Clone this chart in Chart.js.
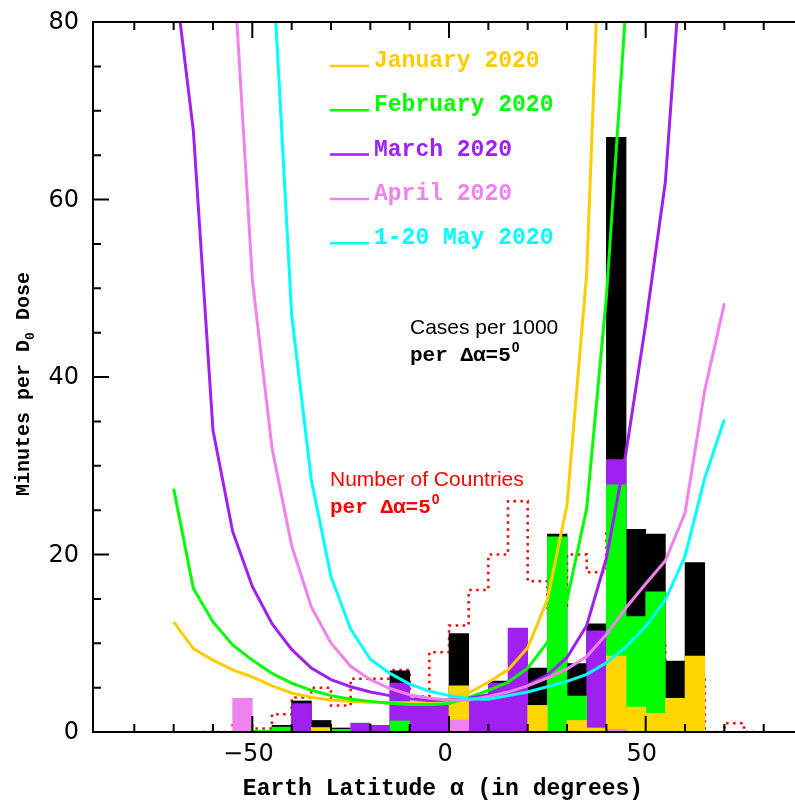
<!DOCTYPE html>
<html>
<head>
<meta charset="utf-8">
<script src="https://cdn.jsdelivr.net/npm/chart.js@4.4.1/dist/chart.umd.min.js"></script>
<style>
  html, body { margin: 0; padding: 0; background: #fff; }
  #wrap { width: 795px; height: 803px; position: relative; }
</style>
</head>
<body>
<div id="wrap"><canvas id="doseChart"></canvas></div>
<script>
// latitude grid of the dose curves (degrees)
const curveLat = [-70, -65, -60, -55, -50, -45, -40, -35, -30, -25, -20, -15, -10, -5, 0,
                  5, 10, 15, 20, 25, 30, 35, 40, 45, 50, 55, 60, 65, 70];
// minutes per D0 dose, one list per month (null = not computed)
const minutesJan = [12.4, 9.4, 8.1, 7.0, 6.2, 5.2, 4.4, 3.9, 3.6, 3.45, 3.35, 3.3, 3.3, 3.35, 3.7,
                    4.4, 5.6, 7.0, 9.5, 14.9, 25.6, 51.7, 110, null, null, null, null, null, null];
const minutesFeb = [27.4, 16.2, 12.4, 9.8, 8.1, 6.6, 5.5, 4.7, 4.1, 3.7, 3.45, 3.25, 3.1, 3.1, 3.2,
                    3.9, 4.7, 5.6, 7.2, 10.1, 14.9, 25.2, 49, 82, null, null, null, null, null];
const minutesMar = [86, 67.8, 34, 22.6, 16.4, 12.2, 9.3, 7.2, 5.9, 5.1, 4.5, 4.1, 3.75, 3.55, 3.6,
                    3.8, 4.2, 4.5, 5.3, 6.4, 8.4, 12.0, 19.6, 31.5, 46, 62, 93, null, null];
const minutesApr = [null, null, null, 88, 51, 32, 21, 14.1, 10.0, 7.4, 5.9, 4.9, 4.2, 3.8, 3.6,
                    3.6, 4.0, 4.5, 5.2, 6.1, 7.1, 8.5, 11.0, 14.0, 16.7, 19.3, 24.7, 38.5, 48.3];
const minutesMay = [null, null, null, null, null, 88, 47, 28.4, 17.5, 11.6, 8.2, 6.6, 5.4, 4.6, 4.1,
                    3.75, 3.7, 4.1, 4.5, 5.1, 5.7, 6.5, 7.8, 9.6, 11.9, 14.9, 19.8, 28.6, 35.2];

// histogram bins (centres of 5 degree bins)
const binCenters = [-52.5, -47.5, -42.5, -37.5, -32.5, -27.5, -22.5, -17.5, -12.5, -7.5, -2.5, 2.5,
                    7.5, 12.5, 17.5, 22.5, 27.5, 32.5, 37.5, 42.5, 47.5, 52.5, 57.5, 62.5];
const casesTotal = [0, 0, 0.75, 3.5, 1.3, 0.45, 0, 0, 6.9, 0, 0, 11.1,
                    0, 5.75, 0, 7.2, 22.3, 7.7, 12.2, 67.0, 22.85, 22.3, 8.0, 19.1];
const casesMar   = [0, 0, 0, 3.2, 0, 0, 1.0, 0.75, 5.5, 3.1, 3.1, 0,
                    3.6, 5.5, 11.7, 0, 0, 0, 11.4, 30.7, 0, 0, 0, 0];
const casesFeb   = [0, 0.2, 0.55, 0, 0, 0.3, 0, 0, 1.25, 0, 0, 0,
                    0, 0, 0, 0, 22.0, 4.05, 0, 27.85, 13.0, 15.8, 0, 0];
const casesJan   = [0, 0, 0, 0, 0.5, 0, 0, 0, 0, 0, 0, 5.2,
                    0, 0, 0, 3.0, 0, 1.3, 0.45, 8.55, 2.8, 2.1, 3.8, 8.55];
const casesApr   = [3.8, 0, 0, 0, 0, 0, 0, 0, 0, 0, 0, 1.35,
                    0, 0, 0, 0, 0, 0, 0, 0.3, 0, 0, 0, 0];

// number of countries per bin (scaled onto the same axis)
const countryBins = [-62.5, -57.5, -52.5, -47.5, -42.5, -37.5, -32.5, -27.5, -22.5, -17.5, -12.5,
                     -7.5, -2.5, 2.5, 7.5, 12.5, 17.5, 22.5, 27.5, 32.5, 37.5, 42.5, 47.5, 52.5,
                     57.5, 62.5, 67.5, 72.5, 77.5];
const countries = [0, 0, 1.2, 0.4, 2.0, 3.9, 5.0, 3.0, 6.0, 6.0, 7.0,
                   4.0, 9.0, 12.0, 16.0, 20.0, 26.0, 17.0, 14.0, 20.0, 18.0, 22.6, 15, 10,
                   6, 6.2, 0, 1.0, 0];

const xTickLabels = [-50, 0, 50];
const yTickLabels = [0, 20, 40, 60, 80];

function pts(xs, ys) {
    return xs.map((x, i) => ({x: x, y: ys[i]})).filter(p => p.y !== null);
}

function curve(label, color, ys, order) {
    return {
        type: 'line', label: label, data: pts(curveLat, ys),
        borderColor: color, borderWidth: 3, pointRadius: 0, tension: 0,
        fill: false, order: order, isCurve: true
    };
}

function bars(color, ys, order) {
    return {
        type: 'bar', data: pts(binCenters, ys), backgroundColor: color,
        borderWidth: 0, grouped: false, barPercentage: 1, categoryPercentage: 1, order: order
    };
}

// axes, ticks, legend and annotations
const decorations = {
    id: 'decorations',
    afterDatasetsDraw(chart) {
        const {ctx, chartArea: a, scales: {x, y}} = chart;
        ctx.save();
        ctx.strokeStyle = '#000';
        ctx.lineWidth = 2;
        ctx.beginPath();
        ctx.moveTo(a.right + 2, a.top);
        ctx.lineTo(a.left, a.top);
        ctx.lineTo(a.left, a.bottom);
        ctx.lineTo(a.right + 2, a.bottom);
        ctx.stroke();

        ctx.beginPath();
        for (let v = -80; v <= 80; v += 10) {
            const px = x.getPixelForValue(v);
            const len = xTickLabels.includes(v) ? 16 : 8;
            ctx.moveTo(px, a.bottom); ctx.lineTo(px, a.bottom - len);
            ctx.moveTo(px, a.top); ctx.lineTo(px, a.top + len);
        }
        for (let v = 5; v < 80; v += 5) {
            const py = y.getPixelForValue(v);
            const len = yTickLabels.includes(v) ? 16 : 8;
            ctx.moveTo(a.left, py); ctx.lineTo(a.left + len, py);
        }
        ctx.stroke();

        ctx.fillStyle = '#000';
        ctx.font = '24px "DejaVu Sans"';
        ctx.textBaseline = 'middle';
        ctx.textAlign = 'right';
        yTickLabels.forEach(v => ctx.fillText(String(v), 79, y.getPixelForValue(v) + 1));
        ctx.textAlign = 'center';
        xTickLabels.forEach(v => ctx.fillText(String(v).replace('-', '\u2212'), x.getPixelForValue(v) - 4, 755));

        // axis titles
        ctx.textBaseline = 'alphabetic';
        ctx.font = 'bold 23px "Liberation Mono"';
        ctx.fillText('Earth Latitude \u03b1 (in degrees)', 443, 795);

        ctx.save();
        ctx.translate(29, 384);
        ctx.rotate(-Math.PI / 2);
        const big = 'bold 20px "Liberation Mono"', small = 'bold 13px "Liberation Mono"';
        ctx.font = big;
        const w1 = ctx.measureText('Minutes per D').width;
        const w3 = ctx.measureText(' Dose').width;
        ctx.font = small;
        const w2 = ctx.measureText('0').width;
        let sx = -(w1 + w2 + w3) / 2;
        ctx.textAlign = 'left';
        ctx.font = big; ctx.fillText('Minutes per D', sx, 0); sx += w1;
        ctx.font = small; ctx.fillText('0', sx, 5); sx += w2;
        ctx.font = big; ctx.fillText(' Dose', sx, 0);
        ctx.restore();

        // legend for the dose curves
        ctx.textAlign = 'left';
        ctx.font = 'bold 23px "Liberation Mono"';
        let ly = 66;
        chart.data.datasets.filter(d => d.isCurve).forEach(d => {
            ctx.strokeStyle = d.borderColor;
            ctx.lineWidth = 2.5;
            ctx.beginPath(); ctx.moveTo(330, ly); ctx.lineTo(369, ly); ctx.stroke();
            ctx.fillStyle = d.borderColor;
            ctx.fillText(d.label, 374, ly + 1);
            ly += 44.3;
        });

        // annotations
        function perBin(px, py, color) {
            ctx.fillStyle = color;
            ctx.font = 'bold 21px "Liberation Mono"';
            ctx.fillText('per \u0394\u03b1=5', px, py);
            const w = ctx.measureText('per \u0394\u03b1=5').width;
            ctx.font = 'bold 14px "Liberation Sans"';
            ctx.fillText('0', px + w + 1, py - 9);
        }
        ctx.font = '21px "Liberation Sans"';
        ctx.fillStyle = '#000';
        ctx.fillText('Cases per 1000', 410, 334);
        perBin(410, 361, '#000');
        ctx.font = '21px "Liberation Sans"';
        ctx.fillStyle = '#ff0000';
        ctx.fillText('Number of Countries', 330, 486);
        perBin(330, 513, '#ff0000');
        ctx.restore();
    }
};

new Chart(document.getElementById('doseChart'), {
    data: {
        datasets: [
            curve('January 2020', '#ffcc00', minutesJan, 5),
            curve('February 2020', '#00ff00', minutesFeb, 4),
            curve('March 2020', '#a020f0', minutesMar, 3),
            curve('April 2020', '#ee82ee', minutesApr, 2),
            curve('1-20 May 2020', '#00ffff', minutesMay, 1),
            bars('#ee82ee', casesApr, 10),
            bars('#ffd700', casesJan, 11),
            bars('#00ff00', casesFeb, 12),
            bars('#a020f0', casesMar, 13),
            bars('#000000', casesTotal, 14),
            {
                type: 'line', data: pts(countryBins, countries), stepped: 'middle',
                borderColor: '#ff0000', borderWidth: 2.5, borderDash: [2.5, 4.5],
                pointRadius: 0, fill: false, order: 20
            }
        ]
    },
    options: {
        responsive: true,
        maintainAspectRatio: false,
        animation: false,
        events: [],
        layout: { padding: { left: 93, top: 22, right: 0, bottom: 71 } },
        scales: {
            x: { type: 'linear', min: -90.5, max: 87.95, display: false, offset: false,
                 ticks: { stepSize: 10, includeBounds: false } },
            y: { type: 'linear', min: 0, max: 80, display: false }
        },
        plugins: { legend: { display: false }, tooltip: { enabled: false } }
    },
    plugins: [decorations]
});
</script>
</body>
</html>
